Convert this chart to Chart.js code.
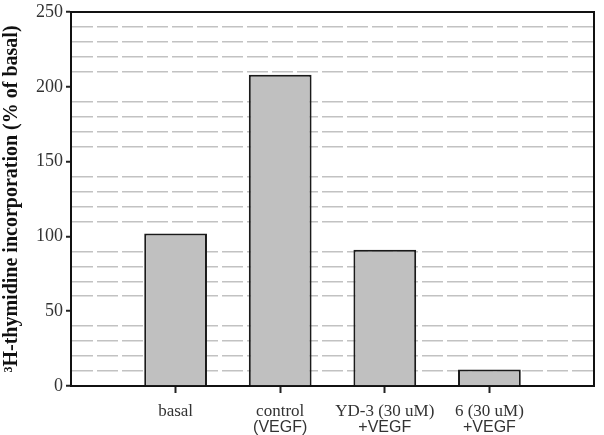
<!DOCTYPE html>
<html>
<head>
<meta charset="utf-8">
<script src="https://cdn.jsdelivr.net/npm/chart.js@4/dist/chart.umd.min.js"></script>
<style>
    html, body { margin: 0; padding: 0; background: #fff; }
    .wrap { width: 604px; height: 435px; position: relative; }
</style>
</head>
<body>
<div class="wrap"><canvas id="thymidineChart"></canvas></div>
<script>
// blank slot at each end so the bars sit at positions 1..4
const categories = ['', 'basal', 'control', 'YD-3 (30 uM)', '6 (30 uM)', ''];
const subLabels = ['', '', '(VEGF)', '+VEGF', '+VEGF', ''];
const incorporation = [null, 102, 208, 91, 11, null];
const yMin = 0;
const yMax = 250;
const yStep = 10;
const yLabelEvery = 50;

// top and right edges of the plot box
const frameBox = {
    id: 'frameBox',
    afterDraw(chart) {
        const { ctx, chartArea: a } = chart;
        ctx.save();
        ctx.strokeStyle = '#111';
        ctx.lineWidth = 2;
        ctx.beginPath();
        ctx.moveTo(a.left, a.top);
        ctx.lineTo(a.right, a.top);
        ctx.lineTo(a.right, a.bottom);
        ctx.stroke();
        ctx.restore();
    }
};

const isEnd = i => i === 0 || i === categories.length - 1;

new Chart(document.getElementById('thymidineChart'), {
    type: 'bar',
    data: {
        labels: categories,
        datasets: [{
            data: incorporation,
            backgroundColor: '#c0c0c0',
            borderColor: '#1a1a1a',
            borderWidth: 2,
            barPercentage: 0.6,
            categoryPercentage: 1,
            xAxisID: 'x'
        }]
    },
    options: {
        responsive: true,
        maintainAspectRatio: false,
        animation: false,
        layout: { padding: { top: 0, right: 10, bottom: 0, left: 0 } },
        plugins: { legend: { display: false }, tooltip: { enabled: false } },
        scales: {
            x: {
                type: 'category',
                position: 'bottom',
                offset: false,
                afterFit: s => { s.height = 34; },
                grid: {
                    offset: false,
                    drawOnChartArea: false,
                    tickLength: 7,
                    tickWidth: 2,
                    tickColor: c => isEnd(c.index) ? 'rgba(0,0,0,0)' : '#222'
                },
                border: { color: '#111', width: 2 },
                ticks: {
                    autoSkip: false,
                    maxRotation: 0,
                    padding: 8,
                    color: '#333',
                    font: { family: '"Liberation Serif", "DejaVu Serif", serif', size: 17 }
                }
            },
            x2: {
                type: 'category',
                position: 'bottom',
                labels: subLabels,
                offset: false,
                afterFit: s => { s.height = 15; },
                grid: { display: false, drawTicks: false, offset: false },
                border: { display: false },
                ticks: {
                    autoSkip: false,
                    maxRotation: 0,
                    padding: 0,
                    color: '#333',
                    font: { family: '"Liberation Sans", Arial, sans-serif', size: 16, lineHeight: 1 }
                }
            },
            y: {
                min: yMin,
                max: yMax,
                afterFit: s => { s.width = 71; },
                grid: {
                    lineWidth: 1.5,
                    color: c => c.tick.value % yLabelEvery === 0 ? 'rgba(0,0,0,0)' : '#c2c2c2',
                    tickLength: 5,
                    tickWidth: 2,
                    tickColor: c => c.tick.value % yLabelEvery === 0 ? '#222' : 'rgba(0,0,0,0)'
                },
                border: { color: '#111', width: 2, dash: [21, 4] },
                ticks: {
                    stepSize: yStep,
                    autoSkip: false,
                    padding: 3,
                    color: '#333',
                    font: { family: '"Liberation Serif", "DejaVu Serif", serif', size: 18, lineHeight: 1 },
                    callback: v => v % yLabelEvery === 0 ? v : ''
                },
                title: {
                    display: true,
                    text: '³H-thymidine incorporation (% of basal)',
                    color: '#111',
                    padding: 0,
                    font: { family: '"Liberation Serif", "DejaVu Serif", serif', size: 20, weight: 'bold' }
                }
            }
        }
    },
    plugins: [frameBox]
});
</script>
</body>
</html>
